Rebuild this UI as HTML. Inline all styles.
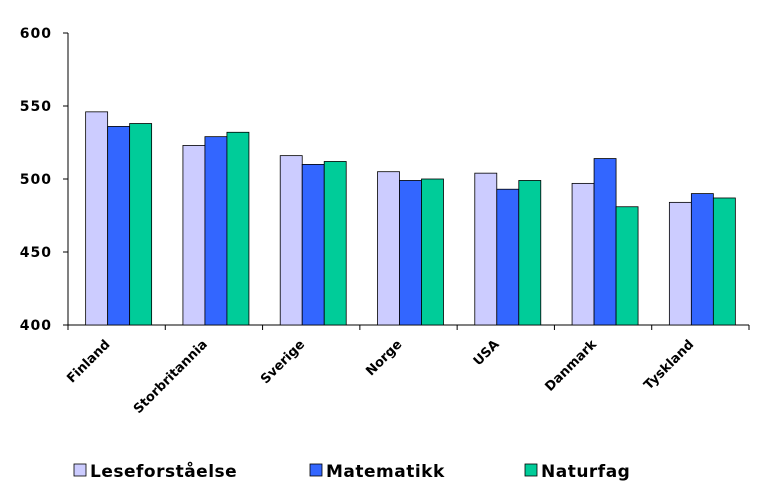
<!DOCTYPE html>
<html><head><meta charset="utf-8"><style>
body{margin:0;background:#fff;}
svg{display:block;font-family:"DejaVu Sans","Liberation Sans",sans-serif;font-weight:bold;}
</style></head><body>
<svg id="chart" width="768" height="497"></svg>
<script>
const categories=["Finland","Storbritannia","Sverige","Norge","USA","Danmark","Tyskland"];
const seriesNames=["Leseforståelse","Matematikk","Naturfag"];
const lese=[546,523,516,505,504,497,484];
const mate=[536,529,510,499,493,514,490];
const natur=[538,532,512,500,499,481,487];
const yTicks=[400,450,500,550,600];
const colors=["#ccccff","#3366ff","#00cc99"];
const svg=document.getElementById('chart');
const NS="http://www.w3.org/2000/svg";
const x0=68,x1=749,yTop=33,yBot=325,yMin=400,yMax=600;
const y=v=>yBot-(v-yMin)/(yMax-yMin)*(yBot-yTop);
const cw=(x1-x0)/categories.length;
const bw=22;
function mk(t,a,p){const e=document.createElementNS(NS,t);for(const k in a)e.setAttribute(k,a[k]);(p||svg).appendChild(e);return e;}
let e;
e=mk('line',{x1:x0,y1:yTop,x2:x0,y2:yBot,stroke:'#000'});


e=mk('line',{x1:x0,y1:yBot,x2:x1,y2:yBot,stroke:'#000'});


yTicks.forEach(t=>{
  mk('line',{x1:x0-5,y1:y(t),x2:x0,y2:y(t),stroke:'#000'});
  e=mk('text',{x:x0-16,y:y(t)+5,'text-anchor':'end','font-size':14,'letter-spacing':1});
  e.textContent=t;
  
  
});
for(let i=0;i<=categories.length;i++){
  mk('line',{x1:x0+i*cw,y1:yBot,x2:x0+i*cw,y2:yBot+5,stroke:'#000'});
}
const series=[lese,mate,natur];
categories.forEach((c,i)=>{
  const cx=x0+cw*(i+0.5)+2;
  series.forEach((s,j)=>{
    const bx=cx-1.5*bw+j*bw;
    e=mk('rect',{x:bx,y:y(s[i]),width:bw,height:yBot-y(s[i]),fill:colors[j],stroke:'#000','stroke-width':0.8});
    
    
  });
  e=mk('text',{x:0,y:0,'text-anchor':'end','font-size':13,transform:`translate(${cx-8},${yBot+20}) rotate(-45)`});
  e.textContent=c;
  
  
});
const lx=[74,310,525];
seriesNames.forEach((n,j)=>{
  const g=mk('g',{});
  
  
  mk('rect',{x:lx[j],y:464,width:12,height:12,fill:colors[j],stroke:'#000','stroke-width':0.8},g);
  const t=mk('text',{x:lx[j]+16,y:477,'font-size':17,'letter-spacing':0.5},g);
  t.textContent=n;
});
</script>
</body></html>
